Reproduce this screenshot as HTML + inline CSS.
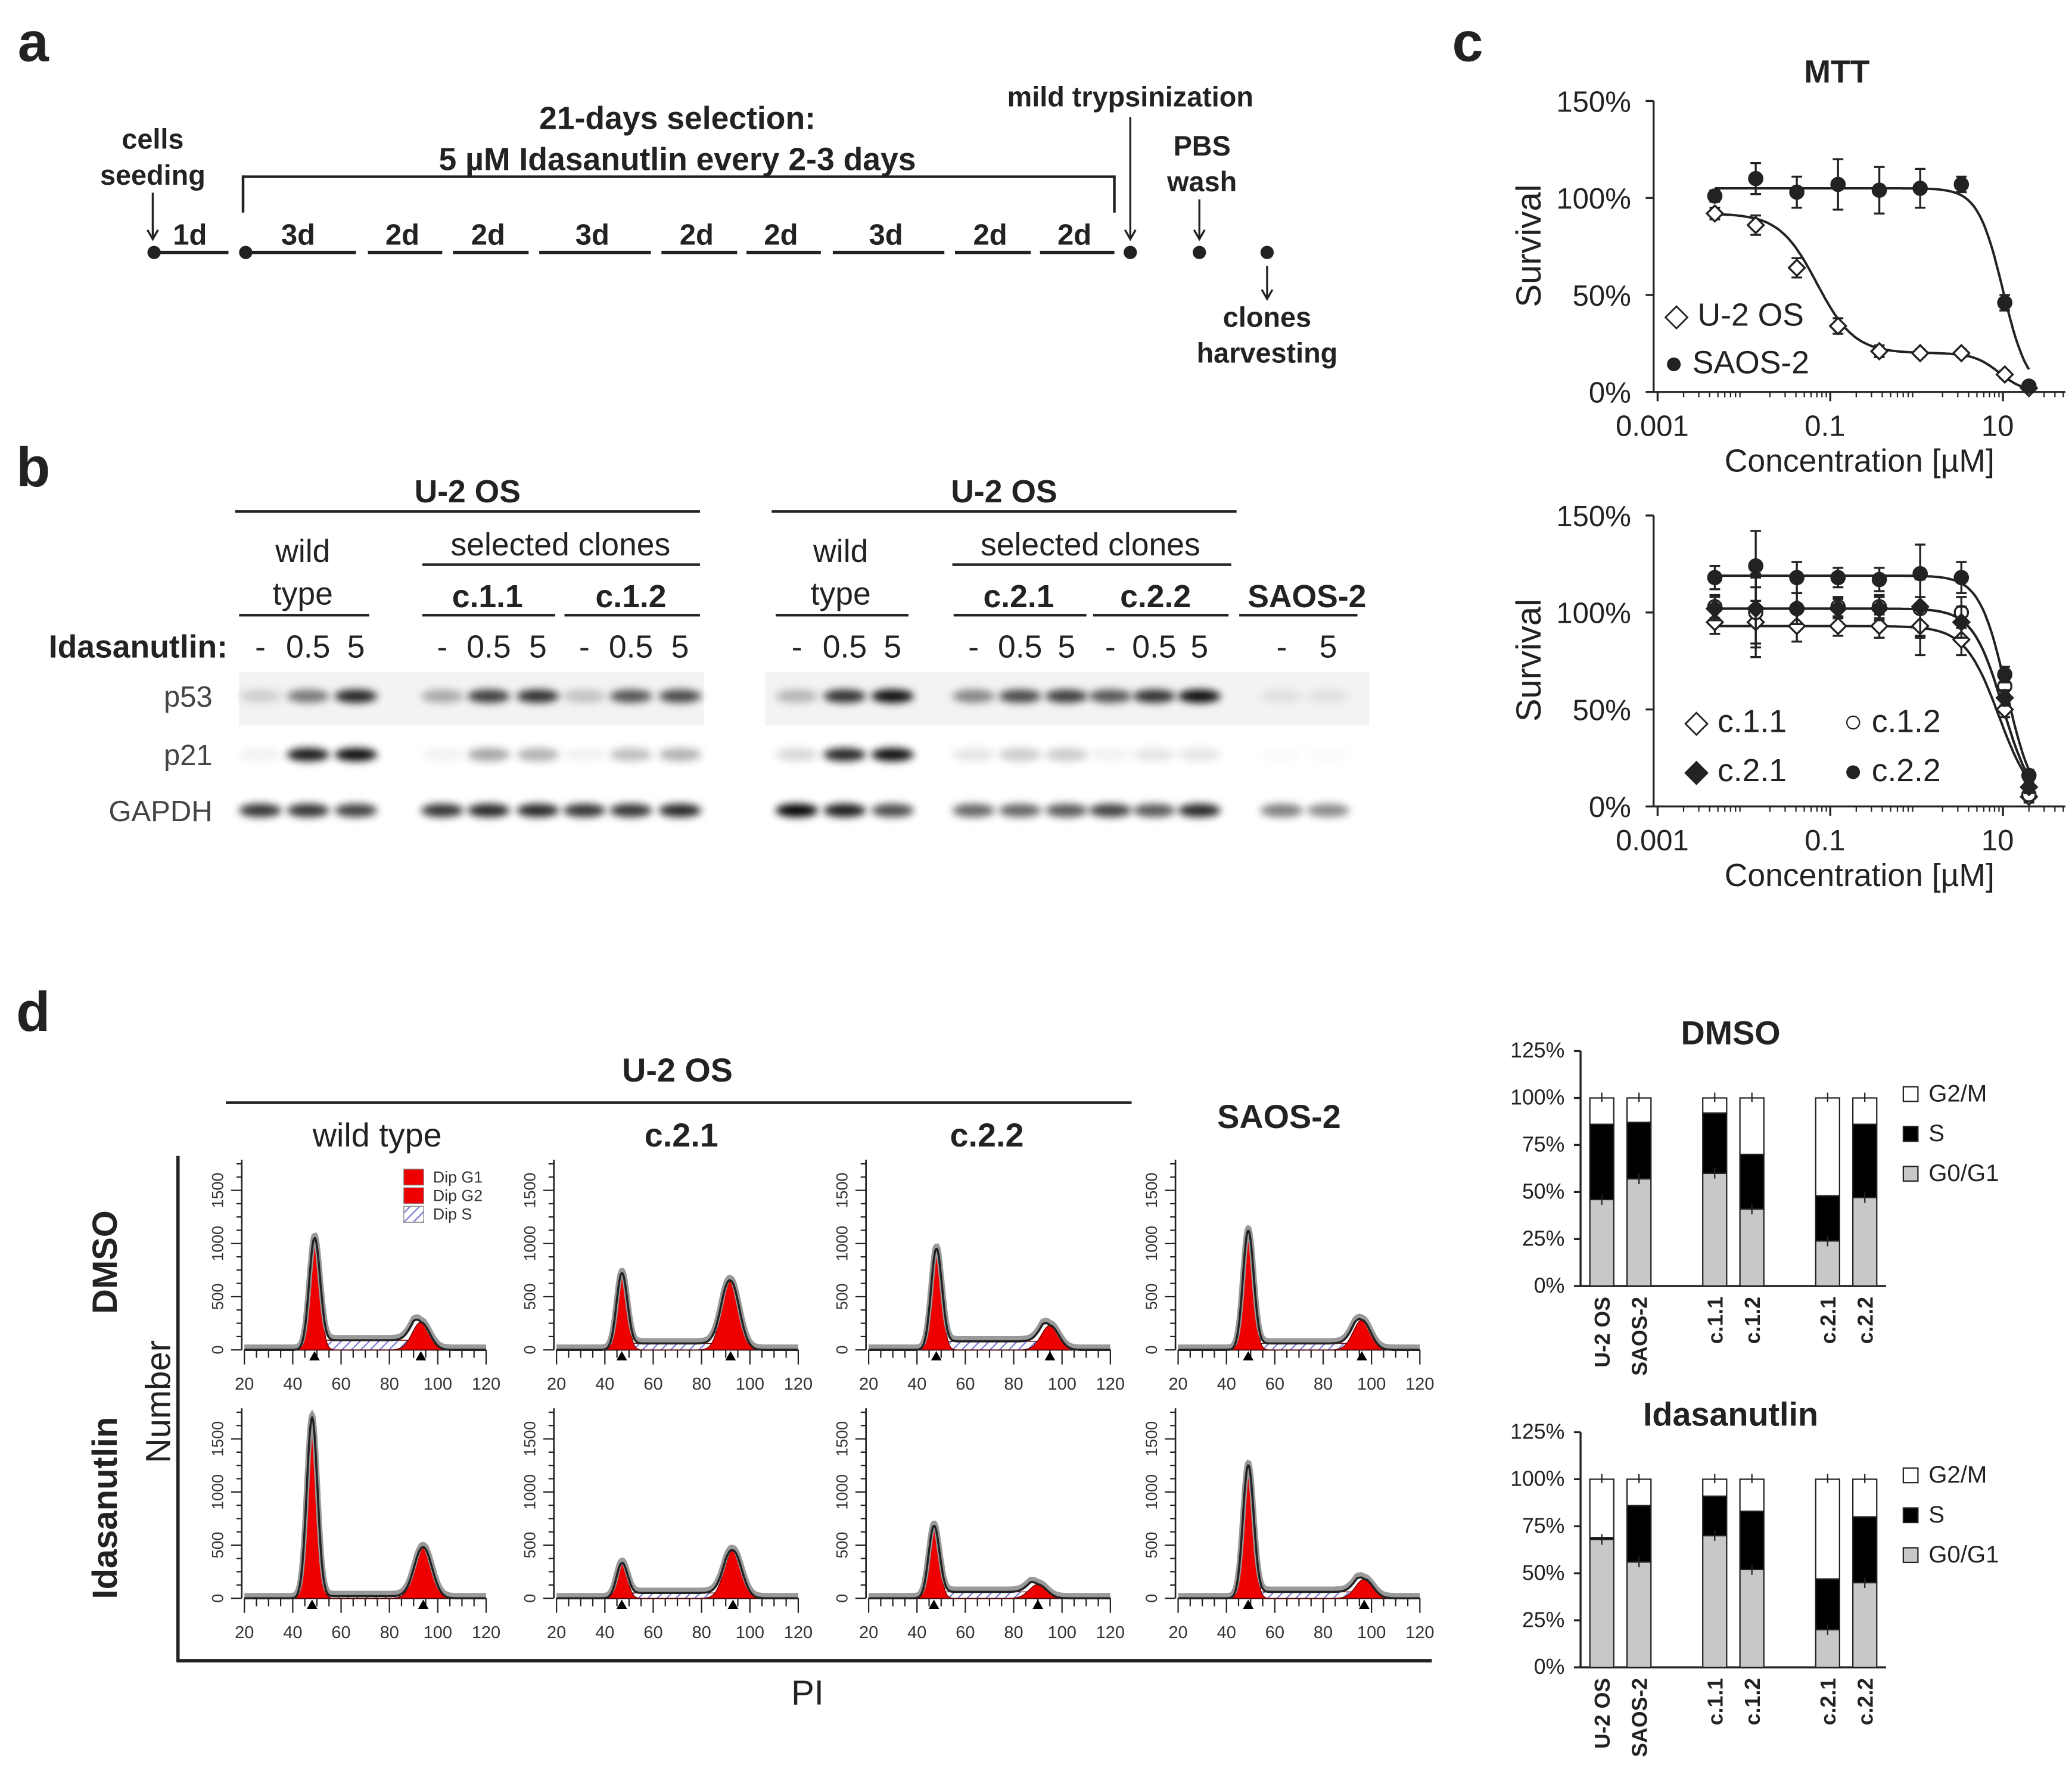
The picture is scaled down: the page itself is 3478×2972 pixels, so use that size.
<!DOCTYPE html>
<html><head><meta charset="utf-8">
<style>
html,body{margin:0;padding:0;background:#fff;}
svg{display:block;font-family:"Liberation Sans",Arial,sans-serif;}
</style></head>
<body>
<svg id="fig" width="3478" height="2972" viewBox="0 0 1560 1333" xmlns="http://www.w3.org/2000/svg">
<defs>
<pattern id="hatch" width="5" height="5" patternUnits="userSpaceOnUse" patternTransform="rotate(45)">
<rect width="5" height="5" fill="#fff"/><line x1="0" y1="0" x2="0" y2="5" stroke="#7b7bd6" stroke-width="2"/>
</pattern>
<filter id="blur" x="-50%" y="-100%" width="200%" height="300%"><feGaussianBlur stdDeviation="3"/></filter>
</defs>
<g id="root"></g>
</svg>
<script>
// ---------- data ----------
const mttConc = [0.0046,0.0137,0.041,0.123,0.37,1.1,3.3,10.5,20];
const mttU2OS = [92,86,64,34,21,20,20,9,2];
const mttU2OSErr = [3,5,5,4,3,2,2,2,1];
const mttSAOS2 = [101,110,103,107,104,105,107,46,3];
const mttSAOS2Err = [3,8,8,13,12,10,4,4,2];
const cloneC11 = [95,95,93,93,93,93,86,50,5];
const cloneC12 = [103,100,102,103,103,102,100,62,6];
const cloneC21 = [102,102,102,102,102,103,95,56,10];
const cloneC22 = [118,124,118,118,117,120,118,68,16];
const cloneErr = [6,18,8,5,6,15,8,4,3];
// fit params: [top, bottom, ic50, hill]
const fitU2OS1 = [92,20,0.07,2.0];
const fitU2OS2 = [20,0,9,3];
const fitSAOS2 = [105,0,10,3];
const fitC11 = [93,0,9,2.2];
const fitC12 = [102,0,10,2.5];
const fitC21 = [102,0,10,2.5];
const fitC22 = [119,0,11,2.8];
const yTicksMTT = ["0%","50%","100%","150%"];
const xTicksMTT = ["0.001","0.1","10"];

const cycleCats = ["U-2 OS","SAOS-2","c.1.1","c.1.2","c.2.1","c.2.2"];
const dmsoG1 = [46,57,60,41,24,47];
const dmsoS = [40,30,32,29,24,39];
const dmsoG2 = [14,13,8,30,52,14];
const idaG1 = [68,56,70,52,20,45];
const idaS = [1,30,21,31,27,35];
const idaG2 = [31,14,9,17,53,20];
const barYTicks = ["0%","25%","50%","75%","100%","125%"];

// histograms: G1 pos, G1 height, G2 pos, G2 height, S level
const histG1Pos = [49,47,48,49,48,47,47,49];
const histG1H = [1050,720,950,1120,1700,330,680,1250];
const histG2Pos = [93,92,95,96,94,93,90,97];
const histG2H = [260,650,230,280,480,450,130,180];
const histS = [90,60,80,60,20,50,60,60];
const histXTicks = ["20","40","60","80","100","120"];
const histYTicks = ["0","500","1000","1500"];

const lanesP53 = [0.15,0.5,0.85, 0.3,0.75,0.8, 0.2,0.65,0.7,  0.25,0.8,0.95, 0.45,0.7,0.75, 0.65,0.8,0.95, 0.08,0.08];
const lanesP21 = [0.05,0.9,0.95, 0.05,0.35,0.3, 0.05,0.25,0.3,  0.15,0.85,0.95, 0.1,0.2,0.2, 0.05,0.1,0.1, 0.02,0.02];
const lanesGAPDH = [0.8,0.8,0.75, 0.8,0.85,0.85, 0.8,0.8,0.85, 1,0.9,0.7, 0.6,0.6,0.65, 0.75,0.65,0.85, 0.5,0.45];

// ---------- helpers ----------
const NS="http://www.w3.org/2000/svg";
const root=document.getElementById('root');
function mk(tag,attrs,parent,txt){const e=document.createElementNS(NS,tag);for(const k in attrs)e.setAttribute(k,attrs[k]);if(txt!==undefined)e.textContent=txt;(parent||root).appendChild(e);return e;}
function T(x,y,s,size,opt,parent,name){opt=opt||{};const e=mk('text',Object.assign({x:x,y:y,'font-size':size,'text-anchor':opt.a||'middle','font-weight':opt.b?'bold':'normal',fill:opt.fill||'#222'},opt.tr?{transform:opt.tr}:{}),parent,s);


return e;}
function L(x1,y1,x2,y2,w,parent,name){const e=mk('line',{x1:x1,y1:y1,x2:x2,y2:y2,stroke:'#222','stroke-width':w||2},parent);


return e;}
function G(name){const g=mk('g',{});


return g;}

// ---------- panel letters ----------
T(25,46,'a',42,{b:1},null,'panel-letter-a');
T(25,366,'b',42,{b:1},null,'panel-letter-b');
T(1105,46,'c',42,{b:1},null,'panel-letter-c');
T(25,776,'d',42,{b:1},null,'panel-letter-d');

// ---------- panel a: timeline ----------
(function(){
const g=G('timeline-panel');
const segs=[[118,172,'1d'],[185,268,'3d'],[277,333,'2d'],[341,398,'2d'],[406,490,'3d'],[498,555,'2d'],[562,618,'2d'],[627,711,'3d'],[719,776,'2d'],[783,839,'2d']];
segs.forEach(s=>{L(s[0],190,s[1],190,2.5,g,'timeline-segment');T((s[0]+s[1])/2-(s[2]==='1d'?2:2),184,s[2],22,{b:1},g,'timeline-duration');});
[[116,190],[185,190],[851,190],[903,190],[954,190]].forEach(p=>{const c=mk('circle',{cx:p[0],cy:p[1],r:5,fill:'#222'},g);});
T(510,97,'21-days selection:',24,{b:1},g,'selection-title');
T(510,128,'5 µM Idasanutlin every 2-3 days',24,{b:1},g,'selection-subtitle');
L(183,133,839,133,2,g,'bracket');L(183,132,183,160,2,g,'bracket');L(839,132,839,160,2,g,'bracket');
T(115,112,'cells',21,{b:1},g,'cells-seeding-label');T(115,139,'seeding',21,{b:1},g,'cells-seeding-label');
function arrow(x,y1,y2){L(x,y1,x,y2,1.5,g,'arrow');const p=mk('path',{d:`M${x-4},${y2-7} L${x},${y2} L${x+4},${y2-7}`,fill:'none',stroke:'#222','stroke-width':1.5},g);}
arrow(115,145,180);arrow(851,88,180);arrow(903,150,180);arrow(954,200,225);
T(851,80,'mild trypsinization',21,{b:1},g,'trypsinization-label');
T(905,117,'PBS',21,{b:1},g,'pbs-label');T(905,144,'wash',21,{b:1},g,'wash-label');
T(954,246,'clones',21,{b:1},g,'clones-label');T(954,273,'harvesting',21,{b:1},g,'harvesting-label');
})();

// ---------- panel b: western blot ----------
(function(){
const g=G('western-blot-panel');
T(352,378,'U-2 OS',24,{b:1},g,'blot-group-title');L(177,385,527,385,2,g,'group-line');
T(756,378,'U-2 OS',24,{b:1},g,'blot-group-title');L(581,385,931,385,2,g,'group-line');
T(228,423,'wild',24,{},g,'wild-type-label');T(228,455,'type',24,{},g,'wild-type-label');
T(633,423,'wild',24,{},g,'wild-type-label');T(633,455,'type',24,{},g,'wild-type-label');
T(422,418,'selected clones',24,{},g,'selected-clones-label');L(318,425,527,425,2,g,'group-line');
T(821,418,'selected clones',24,{},g,'selected-clones-label');L(717,425,927,425,2,g,'group-line');
T(367,457,'c.1.1',24,{b:1},g,'clone-label');T(475,457,'c.1.2',24,{b:1},g,'clone-label');
T(767,457,'c.2.1',24,{b:1},g,'clone-label');T(870,457,'c.2.2',24,{b:1},g,'clone-label');
T(984,457,'SAOS-2',24,{b:1},g,'saos2-label');
[[180,278],[318,418],[425,527],[584,684],[718,818],[823,925],[933,1022]].forEach(s=>L(s[0],463,s[1],463,2,g,'group-line'));
T(104,495,'Idasanutlin:',24,{b:1},g,'idasanutlin-label');
const lanes=[196,232,268,333,368,405,440,475,512,600,636,672,733,768,803,836,869,903,965,1000];
const doses=['-','0.5','5','-','0.5','5','-','0.5','5','-','0.5','5','-','0.5','5','-','0.5','5','-','5'];
lanes.forEach((x,i)=>T(x,495,doses[i],24,{},g,'dose-label'));
T(160,532,'p53',22,{a:'end',fill:'#444'},g,'p53-label');
T(160,576,'p21',22,{a:'end',fill:'#444'},g,'p21-label');
T(160,618,'GAPDH',22,{a:'end',fill:'#444'},g,'gapdh-label');
[[180,506,350,40],[576,506,455,40],[925,506,105,40]].forEach(r=>{const e=mk('rect',{x:r[0],y:r[1],width:r[2],height:r[3],fill:'#f3f3f3'},g);});
function bands(arr,y,name){arr.forEach((v,i)=>{const e=mk('ellipse',{cx:lanes[i],cy:y,rx:16,ry:5,fill:'#000','fill-opacity':v,filter:'url(#blur)'},g);});}
bands(lanesP53,524,'p53-band');bands(lanesP21,568,'p21-band');bands(lanesGAPDH,610,'gapdh-band');
})();

// ---------- panel c: MTT ----------
function mttChart(top0,name,series,title){
const g=G(name);
const xl=1245, xr=1555;
const X=c=>1248+(Math.log10(c)+3)*65;
const Y=v=>top0-v*219/150;
if(title)T(1383,62,title,24,{b:1},g,'mtt-title');
L(xl,top0-219,xl,top0,1.5,g,'y-axis');L(xl,top0,xr,top0,1.5,g,'x-axis');
yTicksMTT.forEach((t,i)=>{const y=Y(i*50);L(xl-6,y,xl,y,1.5,g,'y-tick');T(xl-17,y+8,t,22,{a:'end'},g,'y-tick-label');});
xTicksMTT.forEach((t,i)=>{const x=X(Number(t));L(x,top0,x,top0+7,1.5,g,'x-tick');T(x-4,top0+33,t,22,{},g,'x-tick-label');});
for(let d=-3;d<1.5;d++){for(let k=2;k<10;k++){const x=X(k*Math.pow(10,d));if(x<xr)L(x,top0,x,top0+4,1,g,'x-minor-tick');}}
T(1400,top0+60,'Concentration [µM]',24,{},g,'x-axis-title');
T(1160,top0-110,'Survival',26,{tr:`rotate(-90 1160 ${top0-110})`},g,'y-axis-title');
series.forEach(s=>{
 let d='';for(let i=0;i<=200;i++){const lc=Math.log10(0.0046)+i*(Math.log10(20)-Math.log10(0.0046))/200;const c=Math.pow(10,lc);let v=0;s.fits.forEach(f=>{v+=(f[0]-f[1])/(1+Math.pow(c/f[2],f[3]));});v+=s.fits[s.fits.length-1][1];d+=(i?'L':'M')+X(c).toFixed(1)+','+Y(v).toFixed(1);}
 const p=mk('path',{d:d,fill:'none',stroke:'#222','stroke-width':1.8},g);
});
series.forEach(s=>{
 s.vals.forEach((v,i)=>{const x=X(mttConc[i]),y=Y(v),e=s.err[i]*219/150;
  L(x,y-e,x,y+e,1.5,g,'error-bar');L(x-4,y-e,x+4,y-e,1.5,g,'error-cap');L(x-4,y+e,x+4,y+e,1.5,g,'error-cap');
  let m;
  if(s.shape==='dia')m=mk('path',{d:`M${x},${y-6}L${x+6},${y}L${x},${y+6}L${x-6},${y}Z`,fill:s.fill,stroke:'#222','stroke-width':1.5},g);
  else m=mk('circle',{cx:x,cy:y,r:5,fill:s.fill,stroke:'#222','stroke-width':1.5},g);
  
 });
});
return g;}
const gTop=mttChart(295,'mtt-chart-parental',[
 {name:'u2os',vals:mttU2OS,err:mttU2OSErr,shape:'dia',fill:'#fff',fits:[fitU2OS1,fitU2OS2]},
 {name:'saos2',vals:mttSAOS2,err:mttSAOS2Err,shape:'circ',fill:'#222',fits:[fitSAOS2]}],'MTT');
T(1253,245,'◇ U-2 OS',24,{a:'start'},gTop,'legend-u2os');
T(1253,281,'● SAOS-2',24,{a:'start'},gTop,'legend-saos2');
const gBot=mttChart(607,'mtt-chart-clones',[
 {name:'c11',vals:cloneC11,err:cloneErr,shape:'dia',fill:'#fff',fits:[fitC11]},
 {name:'c12',vals:cloneC12,err:cloneErr,shape:'circ',fill:'#fff',fits:[fitC12]},
 {name:'c21',vals:cloneC21,err:cloneErr,shape:'dia',fill:'#222',fits:[fitC21]},
 {name:'c22',vals:cloneC22,err:cloneErr,shape:'circ',fill:'#222',fits:[fitC22]}],null);
T(1268,551,'◇ c.1.1',24,{a:'start'},gBot,'legend-c11');
T(1388,551,'○ c.1.2',24,{a:'start'},gBot,'legend-c12');
T(1268,588,'◆ c.2.1',24,{a:'start'},gBot,'legend-c21');
T(1388,588,'● c.2.2',24,{a:'start'},gBot,'legend-c22');

// ---------- panel d: histograms ----------
(function(){
const g=G('cell-cycle-histograms');
T(510,814,'U-2 OS',25,{b:1},g,'histogram-group-title');L(170,830,852,830,2,g,'group-line');
T(284,863,'wild type',25,{},g,'column-title');T(513,863,'c.2.1',25,{b:1},g,'column-title');
T(743,863,'c.2.2',25,{b:1},g,'column-title');T(963,849,'SAOS-2',25,{b:1},g,'column-title');
T(88,950,'DMSO',26,{b:1,tr:'rotate(-90 88 950)'},g,'row-title-dmso');
T(88,1135,'Idasanutlin',26,{b:1,tr:'rotate(-90 88 1135)'},g,'row-title-idasanutlin');
T(128,1055,'Number',26,{tr:'rotate(-90 128 1055)'},g,'y-axis-title');
T(608,1283,'PI',26,{},g,'x-axis-title');
L(134,870,134,1251,2.5,g,'outer-y-axis');L(133,1250,1078,1250,2.5,g,'outer-x-axis');
const cols=[184,419,654,887], rows=[1016,1203];
for(let k=0;k<8;k++){
 const ox=cols[k%4], oy=rows[Math.floor(k/4)];
 const X=u=>ox+(u-20)*1.82, Y=v=>oy-v*120/1500;
 const h=G('histogram-'+k); g.appendChild(h);
 L(ox-2,oy-143,ox-2,oy,1.2,h,'hist-y-axis');L(ox,oy,X(120),oy,1.2,h,'hist-x-axis');
 for(let v=0;v<=1750;v+=125)L(ox-2,Y(v),ox+(v%500?-6:-10),Y(v),1,h,'hist-y-tick');
 histYTicks.forEach(t=>{const y=Y(Number(t));T(ox-20,y+4,t,12,{tr:`rotate(-90 ${ox-20} ${y})`,fill:'#333'},h,'hist-y-tick-label');});
 for(let u=20;u<=120;u+=5)L(X(u),oy,X(u),oy+(u%20?6:11),1,h,'hist-x-tick');
 histXTicks.forEach(t=>T(X(Number(t)),oy+30,t,13,{fill:'#333'},h,'hist-x-tick-label'));
 const g1=histG1Pos[k],a1=histG1H[k],g2=histG2Pos[k],a2=histG2H[k],sl=histS[k];
 const f1=u=>a1*Math.exp(-Math.pow((u-g1)/2.2,2)/2), f2=u=>a2*Math.exp(-Math.pow((u-g2)/3.6,2)/2);
 const fs=u=>(u>g1&&u<g2)?sl*Math.min(1,(u-g1)/3,(g2-u)/3):0;
 let dS=`M${X(g1)},${oy}`,d1=`M${X(g1-9)},${oy}`,d2=`M${X(g2-13)},${oy}`,dT='';
 for(let u=20;u<=120;u+=0.25){
  if(u>=g1&&u<=g2)dS+=`L${X(u).toFixed(1)},${Y(fs(u)).toFixed(1)}`;
  if(u>=g1-9&&u<=g1+9)d1+=`L${X(u).toFixed(1)},${Y(f1(u)).toFixed(1)}`;
  if(u>=g2-13&&u<=g2+13)d2+=`L${X(u).toFixed(1)},${Y(f2(u)).toFixed(1)}`;
  dT+=(u===20?'M':'L')+X(u).toFixed(1)+','+Y(f1(u)+f2(u)+fs(u)).toFixed(1);
 }
 dS+=`L${X(g2)},${oy}Z`;d1+=`L${X(g1+9)},${oy}Z`;d2+=`L${X(g2+13)},${oy}Z`;
 [[dS,'url(#hatch)','s-phase-area'],[d1,'#ee0000','g1-peak'],[d2,'#ee0000','g2-peak']].forEach(q=>{const e=mk('path',{d:q[0],fill:q[1],stroke:'#600','stroke-width':0.6},h);});
 const o2=mk('path',{d:dT,fill:'none',stroke:'#999','stroke-width':4,transform:'translate(0,-2)'},h);
 const o=mk('path',{d:dT,fill:'none',stroke:'#222','stroke-width':1.6},h);
 [g1,g2].forEach(u=>{const tr=mk('path',{d:`M${X(u)-4},${oy+8}L${X(u)},${oy+1}L${X(u)+4},${oy+8}Z`,fill:'#000'},h);});
 if(k===0){
  [['Dip G1','#ee0000',890],['Dip G2','#ee0000',904],['Dip S','url(#hatch)',918]].forEach(q=>{const r=mk('rect',{x:304,y:q[2]-10,width:15,height:12,fill:q[1],stroke:'#888','stroke-width':0.6},h);T(326,q[2],q[0],12,{a:'start',fill:'#333'},h,'hist-legend-label');});
 }
}
})();

// ---------- panel d: stacked bars ----------
function barChart(y0,title,g1,s,g2,name){
const g=G(name);
const Y=v=>y0-v*177/125;
const xs=[1206,1234,1291,1319,1376,1404];
T(1303,y0-182,title,25,{b:1},g,'bar-chart-title');
L(1190,y0-177,1190,y0,1.5,g,'y-axis');L(1190,y0,1420,y0,1.5,g,'x-axis');
barYTicks.forEach((t,i)=>{const y=Y(i*25);L(1185,y,1190,y,1.5,g,'y-tick');T(1178,y+5,t,16,{a:'end'},g,'y-tick-label');});
cycleCats.forEach((c,i)=>{
 const x=xs[i]-9;let base=0;
 [[g1[i],'#c8c8c8','g0g1'],[s[i],'#000','s-phase'],[g2[i],'#fff','g2m']].forEach(q=>{const r=mk('rect',{x:x,y:Y(base+q[0]),width:18,height:q[0]*177/125,fill:q[1],stroke:'#222','stroke-width':1},g);base+=q[0];});
 L(xs[i],Y(g1[i])-4,xs[i],Y(g1[i])+4,1,g,'error-bar');L(xs[i],Y(100)-4,xs[i],Y(100)+3,1,g,'error-bar');
 T(xs[i]+6,y0+8,c,16,{b:1,a:'end',tr:`rotate(-90 ${xs[i]+6} ${y0+8})`},g,'x-category-label');
});
[['G2/M','#fff',-140],['S','#000',-110],['G0/G1','#c8c8c8',-80]].forEach(q=>{const r=mk('rect',{x:1433,y:y0+q[2]-10,width:11,height:11,fill:q[1],stroke:'#222','stroke-width':1},g);T(1452,y0+q[2]+1,q[0],18,{a:'start'},g,'legend-label');});
}
barChart(968,'DMSO',dmsoG1,dmsoS,dmsoG2,'stacked-bar-dmso');
barChart(1255,'Idasanutlin',idaG1,idaS,idaG2,'stacked-bar-idasanutlin');
</script>
</body></html>
